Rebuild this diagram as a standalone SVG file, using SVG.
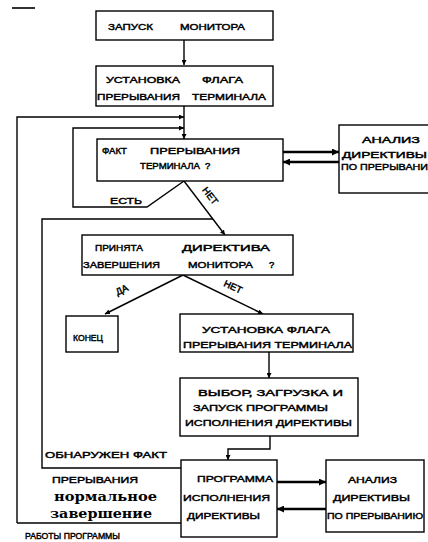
<svg xmlns="http://www.w3.org/2000/svg" width="428" height="542" viewBox="0 0 428 542">
<style>
.b{fill:#fff;stroke:#000;stroke-width:1.4}
.t{font-family:"Liberation Sans",Arial,sans-serif;font-size:9.5px;font-weight:normal;fill:#000;stroke:#000;stroke-width:0.45}
.s{font-family:"DejaVu Serif","Liberation Serif",serif;font-size:13.5px;font-weight:bold;fill:#000}
.c{fill:none;stroke:#000;stroke-width:1.4}
.k{fill:none;stroke:#000;stroke-width:2.6}
</style>
<defs>
<marker id="a" viewBox="0 0 10 10" refX="10" refY="5" markerWidth="5" markerHeight="5" orient="auto" markerUnits="userSpaceOnUse"><path d="M0,0 L10,5 L0,10 z" fill="#000"/></marker>
<marker id="ak" viewBox="0 0 10 10" refX="10" refY="5" markerWidth="7" markerHeight="7" orient="auto" markerUnits="userSpaceOnUse"><path d="M0,0 L10,5 L0,10 z" fill="#000"/></marker>
</defs>
<line x1="12" y1="8" x2="35" y2="8" stroke="#000" stroke-width="1.6"/>
<g id="connectors">
<line class="c" x1="184" y1="40" x2="184" y2="65" marker-end="url(#a)"/>
<line class="c" x1="184" y1="106" x2="184" y2="139" marker-end="url(#a)"/>
<polyline class="c" points="17,523 17,117 184,117" marker-end="url(#a)"/>
<polyline class="c" points="184,181 147,207 73,207 73,128 184,128" marker-end="url(#a)"/>
<line class="c" x1="184" y1="181" x2="225" y2="235" marker-end="url(#a)"/>
<polyline class="c" points="181,468 42,468 42,219 213,219"/>
<line class="c" x1="17" y1="523" x2="181" y2="523"/>
<line class="c" x1="183" y1="275" x2="105" y2="314" marker-end="url(#a)"/>
<line class="c" x1="183" y1="275" x2="263" y2="314" marker-end="url(#a)"/>
<line class="c" x1="269" y1="352" x2="269" y2="378" marker-end="url(#a)"/>
<polyline class="c" points="270,436 270,449 228,449 228,460" marker-end="url(#a)"/>
<line class="k" x1="283" y1="152" x2="339" y2="152" marker-end="url(#ak)"/>
<line class="k" x1="339" y1="162" x2="283" y2="162" marker-end="url(#ak)"/>
<line class="k" x1="277" y1="482" x2="326" y2="482" marker-end="url(#ak)"/>
<line class="k" x1="326" y1="509" x2="277" y2="509" marker-end="url(#ak)"/>
</g>
<g id="n1"><rect class="b" x="96" y="11" width="177" height="29"/>
<text class="t" x="108" y="30" textLength="45" lengthAdjust="spacingAndGlyphs">ЗАПУСК</text>
<text class="t" x="180" y="30" textLength="65" lengthAdjust="spacingAndGlyphs">МОНИТОРА</text></g>
<g id="n2"><rect class="b" x="96" y="66" width="177" height="40"/>
<text class="t" x="106" y="83" textLength="74" lengthAdjust="spacingAndGlyphs">УСТАНОВКА</text>
<text class="t" x="202" y="83" textLength="41" lengthAdjust="spacingAndGlyphs">ФЛАГА</text>
<text class="t" x="97" y="100" textLength="83" lengthAdjust="spacingAndGlyphs">ПРЕРЫВАНИЯ</text>
<text class="t" x="192" y="100" textLength="74" lengthAdjust="spacingAndGlyphs">ТЕРМИНАЛА</text></g>
<g id="n3"><rect class="b" x="97" y="139" width="186" height="42"/>
<text class="t" x="102" y="154" textLength="25" lengthAdjust="spacingAndGlyphs">ФАКТ</text>
<text class="t" x="150" y="154" textLength="90" lengthAdjust="spacingAndGlyphs">ПРЕРЫВАНИЯ</text>
<text class="t" x="140" y="169" textLength="60" lengthAdjust="spacingAndGlyphs">ТЕРМИНАЛА</text>
<text class="t" x="205" y="169">?</text></g>
<g id="n4"><rect class="b" x="339" y="125" width="100" height="68"/>
<text class="t" x="362" y="143" textLength="58" lengthAdjust="spacingAndGlyphs">АНАЛИЗ</text>
<text class="t" x="342" y="158" textLength="85" lengthAdjust="spacingAndGlyphs">ДИРЕКТИВЫ</text>
<text class="t" x="341" y="170" textLength="87" lengthAdjust="spacingAndGlyphs">ПО ПРЕРЫВАНИ</text></g>
<text class="t" x="110" y="204" textLength="32" lengthAdjust="spacingAndGlyphs">ЕСТЬ</text>
<text class="t" transform="translate(210,196) rotate(52)" text-anchor="middle" dy="3">НЕТ</text>
<g id="n5"><rect class="b" x="82" y="235" width="211" height="40"/>
<text class="t" x="95" y="251" textLength="48" lengthAdjust="spacingAndGlyphs">ПРИНЯТА</text>
<text class="t" x="182" y="251" textLength="88" lengthAdjust="spacingAndGlyphs">ДИРЕКТИВА</text>
<text class="t" x="83" y="268" textLength="77" lengthAdjust="spacingAndGlyphs">ЗАВЕРШЕНИЯ</text>
<text class="t" x="188" y="268" textLength="65" lengthAdjust="spacingAndGlyphs">МОНИТОРА</text>
<text class="t" x="269" y="268">?</text></g>
<text class="t" transform="translate(122,290) rotate(-25)" text-anchor="middle" dy="3">ДА</text>
<text class="t" transform="translate(233,287) rotate(25)" text-anchor="middle" dy="3">НЕТ</text>
<g id="n6"><rect class="b" x="66" y="316" width="52" height="36"/>
<text class="t" x="73" y="341" textLength="30" lengthAdjust="spacingAndGlyphs">КОНЕЦ</text></g>
<g id="n7"><rect class="b" x="180" y="314" width="173" height="38"/>
<text class="t" x="202" y="333" textLength="128" lengthAdjust="spacingAndGlyphs">УСТАНОВКА  ФЛАГА</text>
<text class="t" x="183" y="348" textLength="169" lengthAdjust="spacingAndGlyphs">ПРЕРЫВАНИЯ  ТЕРМИНАЛА</text></g>
<g id="n8"><rect class="b" x="180" y="378" width="178" height="58"/>
<text class="t" x="198" y="396" textLength="145" lengthAdjust="spacingAndGlyphs">ВЫБОР, ЗАГРУЗКА   И</text>
<text class="t" x="193" y="411" textLength="135" lengthAdjust="spacingAndGlyphs">ЗАПУСК  ПРОГРАММЫ</text>
<text class="t" x="185" y="426" textLength="167" lengthAdjust="spacingAndGlyphs">ИСПОЛНЕНИЯ  ДИРЕКТИВЫ</text></g>
<text class="t" x="45" y="458" textLength="122" lengthAdjust="spacingAndGlyphs">ОБНАРУЖЕН   ФАКТ</text>
<text class="t" x="52" y="483" textLength="86" lengthAdjust="spacingAndGlyphs">ПРЕРЫВАНИЯ</text>
<text class="s" x="54" y="501" textLength="103" lengthAdjust="spacingAndGlyphs">нормальное</text>
<text class="s" x="50" y="518" textLength="102" lengthAdjust="spacingAndGlyphs">завершение</text>
<text class="t" x="25" y="539" textLength="95" lengthAdjust="spacingAndGlyphs">РАБОТЫ  ПРОГРАММЫ</text>
<g id="n9"><rect class="b" x="181" y="460" width="96" height="77"/>
<text class="t" x="197" y="482" textLength="76" lengthAdjust="spacingAndGlyphs">ПРОГРАММА</text>
<text class="t" x="183" y="501" textLength="87" lengthAdjust="spacingAndGlyphs">ИСПОЛНЕНИЯ</text>
<text class="t" x="187" y="519" textLength="73" lengthAdjust="spacingAndGlyphs">ДИРЕКТИВЫ</text></g>
<g id="n10"><rect class="b" x="326" y="460" width="98" height="72"/>
<text class="t" x="348" y="483" textLength="49" lengthAdjust="spacingAndGlyphs">АНАЛИЗ</text>
<text class="t" x="333" y="501" textLength="77" lengthAdjust="spacingAndGlyphs">ДИРЕКТИВЫ</text>
<text class="t" x="327" y="519" textLength="96" lengthAdjust="spacingAndGlyphs">ПО ПРЕРЫВАНИЮ</text></g>
</svg>
